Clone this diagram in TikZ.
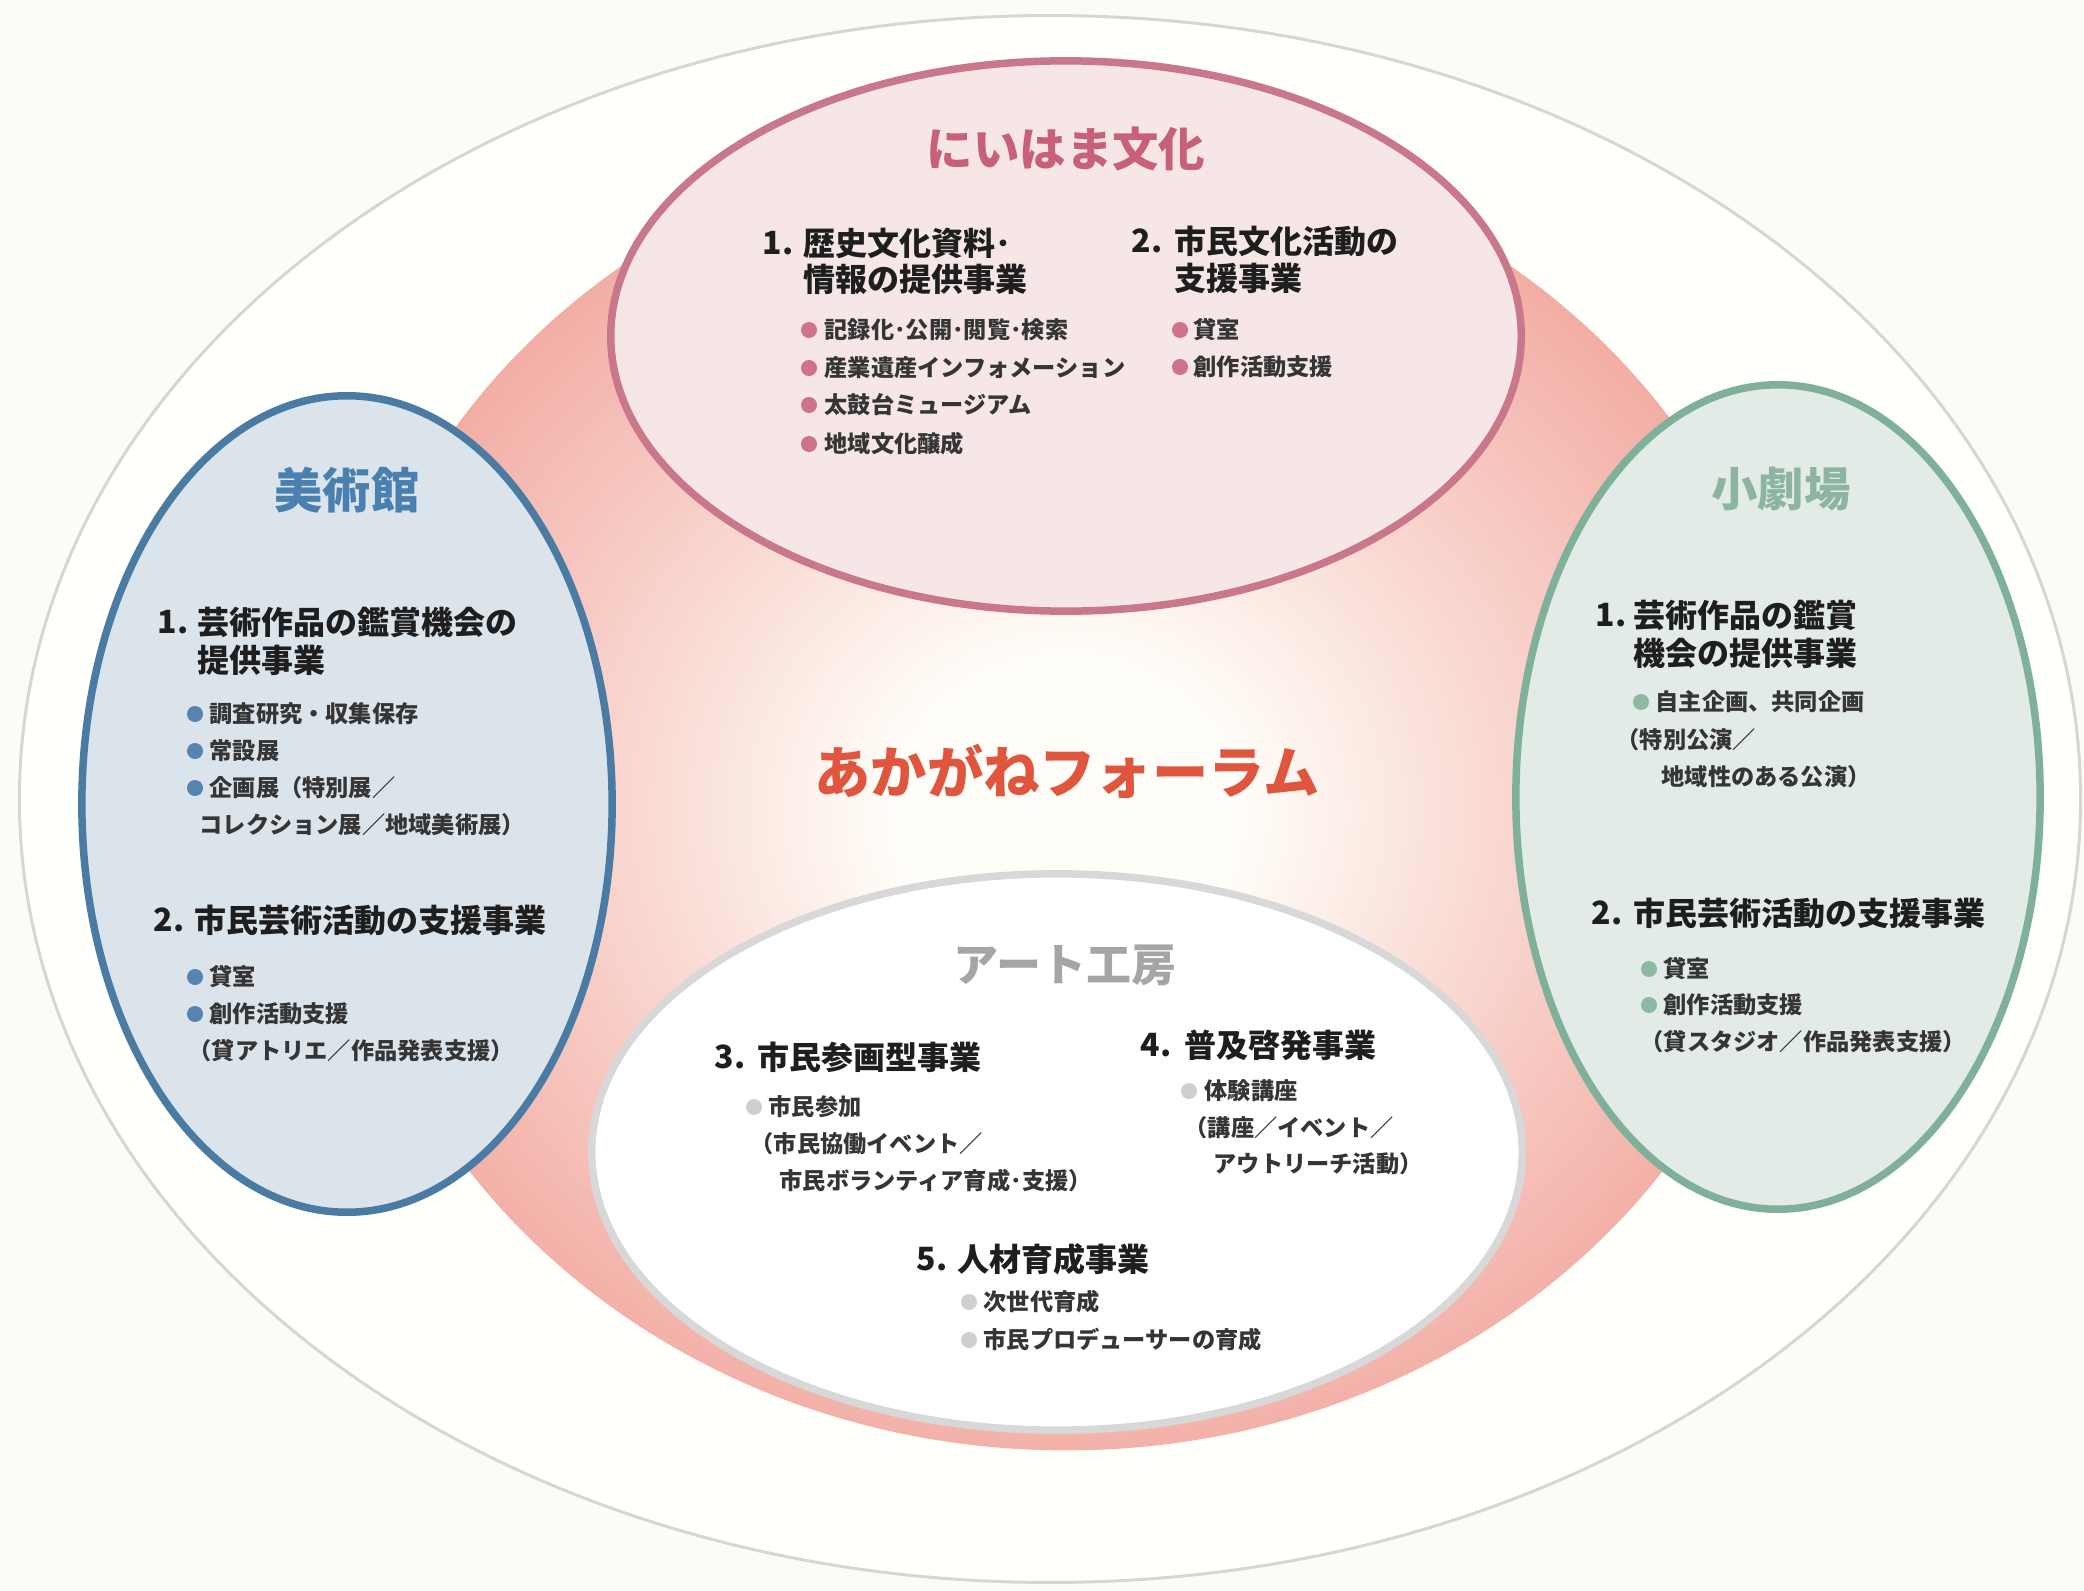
\documentclass[tikz,border=0pt]{standalone}
\usepackage{fontspec}
\newfontfamily\jp{Noto Sans CJK JP}
\usetikzlibrary{shapes.geometric}
\definecolor{bgc}{HTML}{FCFCF6}
\definecolor{outerfill}{HTML}{FFFFFC}
\definecolor{outerline}{HTML}{D6D6D4}
\definecolor{redB}{HTML}{EC8C80}
\definecolor{redD}{HTML}{EE9488}
\definecolor{redA}{HTML}{F2ABA2}
\definecolor{redC}{HTML}{F8D3CC}
\definecolor{glow}{HTML}{FFFDF8}
\definecolor{topfill}{HTML}{F6E6E6}
\definecolor{topline}{HTML}{C9778A}
\definecolor{toptitle}{HTML}{C9607A}
\definecolor{topdot}{HTML}{CE7389}
\definecolor{leftfill}{HTML}{DCE4EB}
\definecolor{leftline}{HTML}{4A7BA3}
\definecolor{lefttitle}{HTML}{4A80B0}
\definecolor{leftdot}{HTML}{5584AE}
\definecolor{rightfill}{HTML}{E2EBE6}
\definecolor{rightline}{HTML}{7FB09A}
\definecolor{righttitle}{HTML}{8CB4A1}
\definecolor{rightdot}{HTML}{8DB9A2}
\definecolor{botfill}{HTML}{FFFFFF}
\definecolor{botline}{HTML}{D8D8D8}
\definecolor{bottitle}{HTML}{A5A5A5}
\definecolor{botdot}{HTML}{CFCFCF}
\definecolor{centertext}{HTML}{E0553E}
\definecolor{ink}{HTML}{1E1E1E}
\pgfdeclareradialshading{redglow}{\pgfpoint{0bp}{-1bp}}{color(0bp)=(glow); color(6bp)=(glow); color(16bp)=(redC); color(26bp)=(redA); color(36bp)=(redD); color(50bp)=(redB)}
\tikzset{
  blob/.style={ellipse, inner sep=0pt, line width=0.075cm},
  ttl/.style={inner sep=0pt, font=\jp\bfseries\fontsize{13.2}{15}\selectfont},
  hd/.style={anchor=west, inner sep=0pt, text=ink, font=\jp\bfseries\fontsize{9.1}{11}\selectfont},
  it/.style={anchor=west, inner sep=0pt, text=ink!90, font=\jp\bfseries\fontsize{6.6}{8}\selectfont},
  dot/.style={circle, inner sep=0pt, minimum size=0.16cm, fill=#1},
}
\begin{document}
\begin{tikzpicture}[x=0.01cm, y=-0.01cm]
\useasboundingbox (0,0) rectangle (2084,1591);
\fill[bgc] (0,0) rectangle (2084,1591);
% shapes
\node[ellipse, inner sep=0pt, draw=outerline, line width=0.03cm, fill=outerfill, minimum width=20.6cm, minimum height=15.66cm] (outer) at (1050,799) {};
\node[ellipse, inner sep=0pt, shading=redglow, minimum width=14.6cm, minimum height=13.2cm] (forum) at (1066,790) {};
\node[blob, draw=topline, fill=topfill, minimum width=9.1cm, minimum height=5.5cm] (topE) at (1066,336) {};
\node[blob, draw=leftline, fill=leftfill, minimum width=5.3cm, minimum height=8.16cm] (leftE) at (347,804) {};
\node[blob, draw=rightline, fill=rightfill, minimum width=5.24cm, minimum height=8.24cm] (rightE) at (1778,797) {};
\node[blob, draw=botline, fill=botfill, minimum width=9.3cm, minimum height=5.56cm] (botE) at (1057,1152) {};
% center title
\node[inner sep=0pt, text=centertext, font=\jp\bfseries\fontsize{16}{18}\selectfont] (ctitle) at (1067,771) {あかがねフォーラム};
% top ellipse
\node[ttl, text=toptitle] (tT) at (1066,149) {にいはま文化};
\node[hd] (t1n) at (762,243) {1.};
\node[hd] (t1a) at (803,243) {歴史文化資料･};
\node[hd] (t1b) at (803,279) {情報の提供事業};
\node[dot=topdot] (td1) at (809,330) {};
\node[it] (ti1) at (824,330) {記録化･公開･閲覧･検索};
\node[dot=topdot] (td2) at (809,368) {};
\node[it] (ti2) at (824,368) {産業遺産インフォメーション};
\node[dot=topdot] (td3) at (809,405) {};
\node[it] (ti3) at (824,405) {太鼓台ミュージアム};
\node[dot=topdot] (td4) at (809,444) {};
\node[it] (ti4) at (824,444) {地域文化醸成};
\node[hd] (t2n) at (1131,241) {2.};
\node[hd] (t2a) at (1174,241) {市民文化活動の};
\node[hd] (t2b) at (1174,278) {支援事業};
\node[dot=topdot] (td5) at (1180,330) {};
\node[it] (ti5) at (1193,330) {貸室};
\node[dot=topdot] (td6) at (1180,367) {};
\node[it] (ti6) at (1193,367) {創作活動支援};
% left ellipse
\node[ttl, text=lefttitle, font=\jp\bfseries\fontsize{13.7}{15}\selectfont] (lT) at (347,490) {美術館};
\node[hd] (l1n) at (157,622) {1.};
\node[hd] (l1a) at (197,622) {芸術作品の鑑賞機会の};
\node[hd] (l1b) at (197,660) {提供事業};
\node[dot=leftdot] (ld1) at (195,714) {};
\node[it] (li1) at (209,714) {調査研究・収集保存};
\node[dot=leftdot] (ld2) at (195,751) {};
\node[it] (li2) at (209,751) {常設展};
\node[dot=leftdot] (ld3) at (195,788) {};
\node[it] (li3) at (209,788) {企画展（特別展／};
\node[it] (li4) at (199,825) {コレクション展／地域美術展）};
\node[hd] (l2n) at (153,920) {2.};
\node[hd] (l2a) at (194,920) {市民芸術活動の支援事業};
\node[dot=leftdot] (ld5) at (195,977) {};
\node[it] (li5) at (209,977) {貸室};
\node[dot=leftdot] (ld6) at (195,1014) {};
\node[it] (li6) at (209,1014) {創作活動支援};
\node[it] (li7) at (188,1051) {（貸アトリエ／作品発表支援）};
% right ellipse
\node[ttl, text=righttitle] (rT) at (1781,489) {小劇場};
\node[hd] (r1n) at (1595,615) {1.};
\node[hd] (r1a) at (1633,615) {芸術作品の鑑賞};
\node[hd] (r1b) at (1633,653) {機会の提供事業};
\node[dot=rightdot] (rd1) at (1641,702) {};
\node[it] (ri1) at (1655,702) {自主企画、共同企画};
\node[it] (ri2) at (1616,740) {（特別公演／};
\node[it] (ri3) at (1661,777) {地域性のある公演）};
\node[hd] (r2n) at (1591,913) {2.};
\node[hd] (r2a) at (1633,913) {市民芸術活動の支援事業};
\node[dot=rightdot] (rd4) at (1649,969) {};
\node[it] (ri4) at (1663,969) {貸室};
\node[dot=rightdot] (rd5) at (1649,1005) {};
\node[it] (ri5) at (1663,1005) {創作活動支援};
\node[it] (ri6) at (1640,1042) {（貸スタジオ／作品発表支援）};
% bottom ellipse
\node[ttl, text=bottitle, font=\jp\bfseries\fontsize{12.8}{15}\selectfont] (bT) at (1065,965) {アート工房};
\node[hd] (b3n) at (714,1057) {3.};
\node[hd] (b3a) at (757,1057) {市民参画型事業};
\node[dot=botdot] (bd1) at (754,1107) {};
\node[it] (bi1) at (768,1107) {市民参加};
\node[it] (bi2) at (750,1144) {（市民協働イベント／};
\node[it] (bi3) at (779,1181) {市民ボランティア育成･支援）};
\node[hd] (b4n) at (1140,1045) {4.};
\node[hd] (b4a) at (1184,1045) {普及啓発事業};
\node[dot=botdot] (bd4) at (1189,1091) {};
\node[it] (bi4) at (1204,1091) {体験講座};
\node[it] (bi5) at (1184,1128) {（講座／イベント／};
\node[it] (bi6) at (1213,1164) {アウトリーチ活動）};
\node[hd] (b5n) at (916,1259) {5.};
\node[hd] (b5a) at (957,1259) {人材育成事業};
\node[dot=botdot] (bd7) at (969,1302) {};
\node[it] (bi7) at (983,1302) {次世代育成};
\node[dot=botdot] (bd8) at (969,1340) {};
\node[it] (bi8) at (983,1340) {市民プロデューサーの育成};
\end{tikzpicture}
\end{document}
